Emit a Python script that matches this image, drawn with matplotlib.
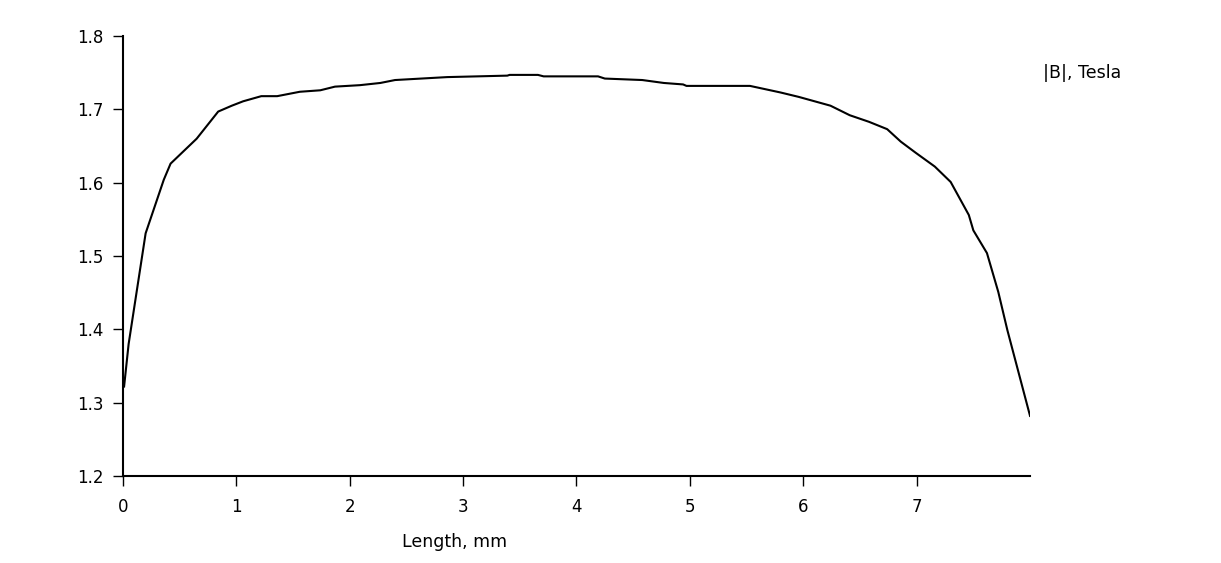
import matplotlib.pyplot as plt
import numpy as np

# Field magnitude along the sample
length_mm = [0.01, 0.05, 0.20, 0.36, 0.42, 0.65, 0.84, 0.96, 1.06, 1.22, 1.36,
             1.56, 1.74, 1.87, 2.09, 2.27, 2.40, 2.86, 3.39, 3.41, 3.66,
             3.71, 4.19, 4.25, 4.58, 4.77, 4.94, 4.97, 5.53, 5.62, 5.80,
             5.96, 6.24, 6.41, 6.58, 6.74, 6.86, 6.99, 7.16, 7.30, 7.46,
             7.50, 7.62, 7.72, 7.80, 8.00]
b_tesla = [1.322, 1.380, 1.531, 1.604, 1.626, 1.660, 1.697, 1.705, 1.711, 1.718, 1.718,
           1.724, 1.726, 1.731, 1.733, 1.736, 1.740, 1.744, 1.746, 1.747, 1.747,
           1.745, 1.745, 1.742, 1.740, 1.736, 1.734, 1.732, 1.732, 1.729, 1.723,
           1.717, 1.705, 1.692, 1.683, 1.673, 1.656, 1.641, 1.622, 1.601, 1.556,
           1.535, 1.504, 1.451, 1.399, 1.282]

x_ticks = [0, 1, 2, 3, 4, 5, 6, 7]
y_ticks = [1.2, 1.3, 1.4, 1.5, 1.6, 1.7, 1.8]

fig = plt.figure(figsize=(12.21, 5.63), dpi=100)
ax = fig.add_axes([0.1007, 0.1545, 0.7429, 0.7815])

ax.plot(length_mm, b_tesla, color='black', linewidth=1.5)

ax.set_xlim(0, 8)
ax.set_ylim(1.2, 1.8)
ax.set_xticks(x_ticks)
ax.set_yticks(y_ticks)
ax.set_yticklabels(['%.1f' % v for v in y_ticks])

for side in ['top', 'right']:
    ax.spines[side].set_visible(False)
for side in ['left', 'bottom']:
    ax.spines[side].set_linewidth(1.5)
ax.tick_params(direction='out', length=7, width=1, labelsize=12)
ax.tick_params(axis='x', pad=9)
ax.tick_params(axis='y', pad=7)

fig.text(0.372, 0.038, 'Length, mm', fontsize=12.5, ha='center', va='center')
fig.text(0.854, 0.870, '|B|, Tesla', fontsize=12.5, ha='left', va='center')

plt.savefig('out.png', dpi=100)
